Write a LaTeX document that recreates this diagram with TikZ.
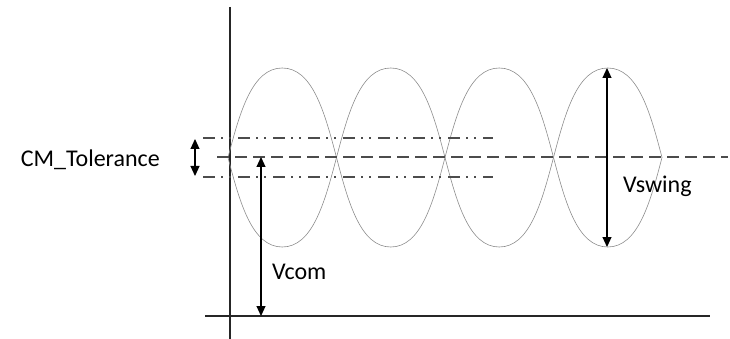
\documentclass[tikz,border=0pt]{standalone}
\usepackage{fontspec}
\setmainfont{Carlito}
\usetikzlibrary{positioning,arrows.meta}
\tikzset{
  axis/.style={line width=1.3pt, black!85},
  wave/.style={line width=0.6pt, black!45},
  midline/.style={line width=1.1pt, black!70, dash pattern=on 12pt off 6pt},
  tolline/.style={line width=1.1pt, black!70, dash pattern=on 12pt off 6pt on 2pt off 6pt on 2pt off 7pt},
  dim/.style={line width=1.1pt, {Triangle[length=10pt,width=9pt]}-{Triangle[length=10pt,width=9pt]}},
  lbl/.style={font=\fontsize{24}{28}\selectfont, inner sep=0pt}
}

\begin{document}
\begin{tikzpicture}[x=1pt,y=-1pt]
\useasboundingbox (0,0) rectangle (730,339);
% axes
\coordinate (ytop) at (230,7);
\coordinate (ybot) at (230,339);
\coordinate (xl) at (205,316);
\coordinate (xr) at (710,316);
\draw[axis] (ytop) -- (ybot);
\draw[axis] (xl) -- (xr);
% the two swinging signals, one lobe at a time
\foreach \i in {0,...,3}
  \foreach \s in {1,-1}
    \draw[wave] ({228+108.5*\i},157.5) .. controls +(12,-46*\s) and +(-30,0) .. ({282.25+108.5*\i},{157.5-89.5*\s})
      .. controls +(30,0) and +(-12,-46*\s) .. ({336.5+108.5*\i},157.5);
% common mode and tolerance lines
\coordinate (ml) at (217,157);
\coordinate (mr) at (728,157);
\draw[midline] (ml) -- (mr);
\foreach \y/\n in {138/hi,177/lo}{
  \coordinate (t\n l) at (203,\y);
  \coordinate (t\n r) at (493,\y);
  \draw[tolline] (t\n l) -- (t\n r);
}
% labels
\draw node (cm) at (160,167) [lbl, anchor=base east]{CM\_Tolerance};
\draw node (vcom) at (272,279) [lbl, anchor=base west]{Vcom};
\draw node (vswing) at (623,192) [lbl, anchor=base west]{Vswing};
% dimension arrows
\coordinate (cmt) at (195,139);
\coordinate (cmb) at (195,176);
\coordinate (vct) at (261,157);
\coordinate (vcb) at (261,316);
\coordinate (vst) at (607,68);
\coordinate (vsb) at (607,247);
\draw[dim] (cmt) -- (cmb);
\draw[dim] (vct) -- (vcb);
\draw[dim] (vst) -- (vsb);
\end{tikzpicture}
\end{document}
